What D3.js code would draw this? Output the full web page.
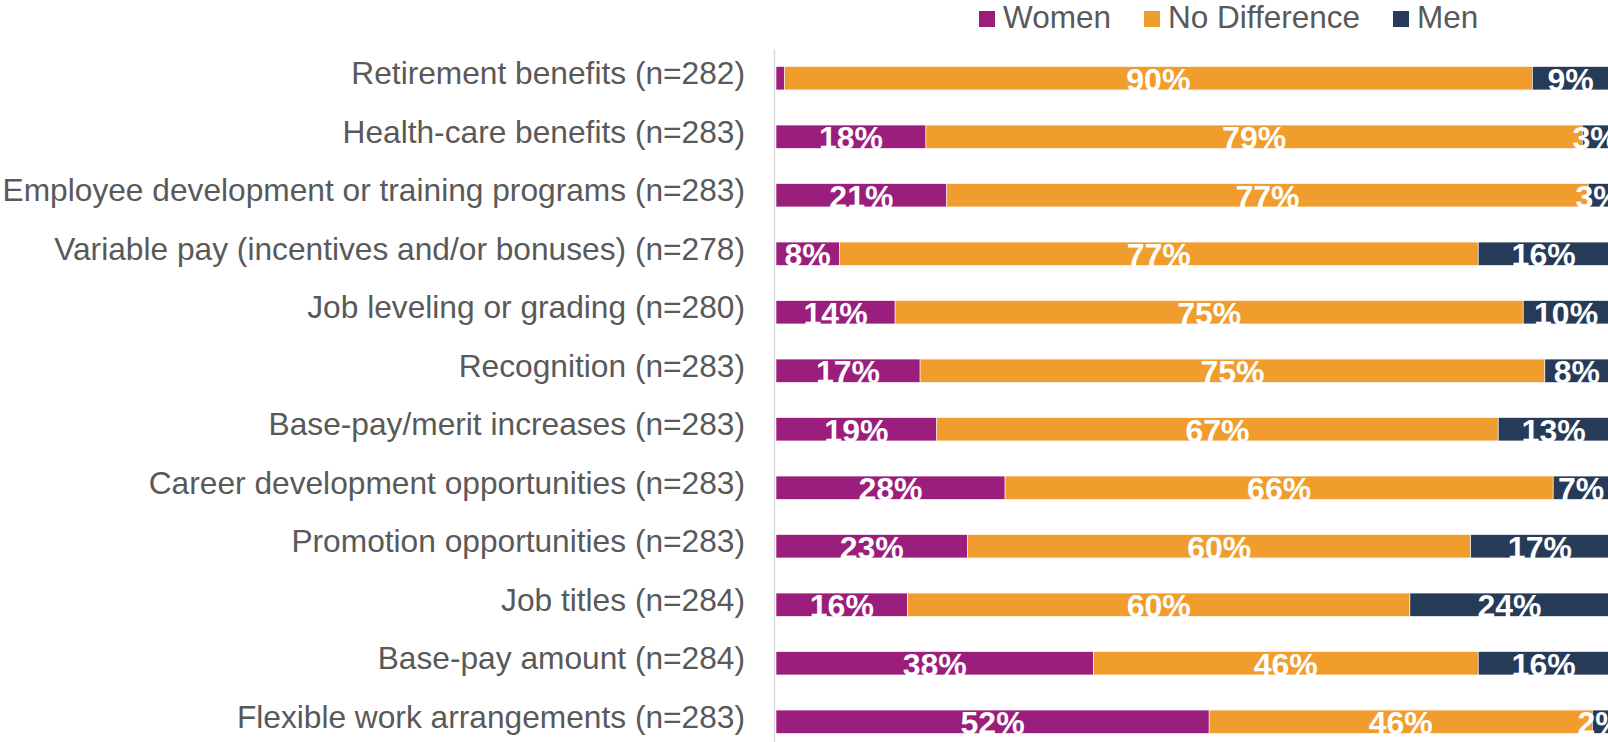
<!DOCTYPE html>
<html>
<head>
<meta charset="utf-8">
<script src="https://cdn.jsdelivr.net/npm/d3@7/dist/d3.min.js"></script>
<style>
  body { margin: 0; background: #fff; }
  svg { display: block; font-family: "Liberation Sans", Arial, sans-serif; }
</style>
</head>
<body>
<svg id="chart" width="1608" height="742"></svg>
<script>
// categories, top to bottom
var categories = [
  "Retirement benefits (n=282)",
  "Health-care benefits (n=283)",
  "Employee development or training programs (n=283)",
  "Variable pay (incentives and/or bonuses) (n=278)",
  "Job leveling or grading (n=280)",
  "Recognition (n=283)",
  "Base-pay/merit increases (n=283)",
  "Career development opportunities (n=283)",
  "Promotion opportunities (n=283)",
  "Job titles (n=284)",
  "Base-pay amount (n=284)",
  "Flexible work arrangements (n=283)"
];
var seriesNames = ["Women", "No Difference", "Men"];
var women        = [1.0, 18.0, 20.5, 7.6, 14.3, 17.3, 19.3, 27.5, 23.0, 15.8, 38.1, 52.0];
var noDifference = [89.8, 78.8, 77.0, 76.7, 75.4, 75.0, 67.4, 65.8, 60.4, 60.3, 46.2, 46.0];
var men          = [9.2, 3.2, 2.5, 15.7, 10.3, 7.7, 13.3, 6.7, 16.6, 23.9, 15.7, 2.0];
var colors = ["#9B1D7C", "#F09D2D", "#253B57"];

var svg = d3.select("#chart");

var x = d3.scaleLinear().domain([0, 100]).range([776, 1609]);
var y = d3.scaleBand().domain(categories).range([49, 751])
  .paddingInner(0.6).paddingOuter(0.3);

var rows = categories.map(function(c, i) {
  return { cat: c, Women: women[i], "No Difference": noDifference[i], Men: men[i] };
});
var stacked = d3.stack().keys(seriesNames)(rows);

// axis line
svg.append("line")
  .attr("x1", 774.5).attr("x2", 774.5)
  .attr("y1", 49).attr("y2", 742)
  .attr("stroke", "#d9d9d9").attr("stroke-width", 1.5);

var layers = svg.selectAll("g.layer")
  .data(stacked)
  .enter().append("g")
  .attr("class", "layer")
  .attr("fill", function(d, i) { return colors[i]; });

layers.selectAll("rect")
  .data(function(d) { return d; })
  .enter().append("rect")
  .attr("x", function(d) { return x(d[0]); })
  .attr("y", function(d) { return y(d.data.cat); })
  .attr("width", function(d) { return x(d[1]) - x(d[0]); })
  .attr("height", y.bandwidth())
  .attr("stroke", "#fff")
  .attr("stroke-width", 0.6);

layers.selectAll("text")
  .data(function(d) { return d.filter(function(p) { return p[1] - p[0] >= 1.5; }); })
  .enter().append("text")
  .attr("x", function(d) { return (x(d[0]) + x(d[1])) / 2; })
  .attr("y", function(d) { return y(d.data.cat) + y.bandwidth() + 1; })
  .attr("text-anchor", "middle")
  .attr("fill", "#fff")
  .attr("font-weight", "bold")
  .attr("font-size", "32px")
  .text(function(d) { return Math.round(d[1] - d[0]) + "%"; });

// category labels
svg.selectAll("text.cat")
  .data(categories)
  .enter().append("text")
  .attr("class", "cat")
  .attr("x", 745)
  .attr("y", function(d) { return y(d) + y.bandwidth() / 2; })
  .attr("dy", "0.19em")
  .attr("text-anchor", "end")
  .attr("fill", "#595959")
  .attr("font-size", "31.7px")
  .text(function(d) { return d; });

// legend
var legend = svg.append("g");
var lx = 979;
seriesNames.forEach(function(name, i) {
  legend.append("rect")
    .attr("x", lx).attr("y", 11)
    .attr("width", 16).attr("height", 16)
    .attr("fill", colors[i]);
  var t = legend.append("text")
    .attr("x", lx + 24).attr("y", 28)
    .attr("fill", "#595959")
    .attr("font-size", "31.5px")
    .text(name);
  lx += 24 + t.node().getComputedTextLength() + 33;
});
</script>
</body>
</html>
